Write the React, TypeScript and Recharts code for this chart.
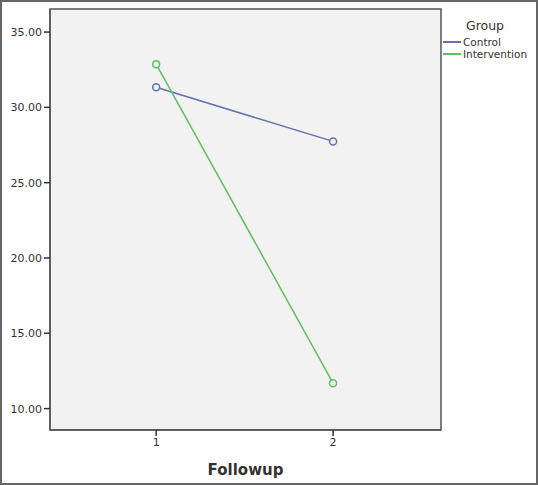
import React from "react";
import {
  LineChart,
  Line,
  XAxis,
  YAxis,
  ReferenceArea,
} from "recharts";

const FOLLOWUP = [1, 2];
const CONTROL = [31.33, 27.74];
const INTERVENTION = [32.87, 11.69];
const Y_TICKS = [10, 15, 20, 25, 30, 35];
const X_DOMAIN = [0.4, 2.61];
const Y_DOMAIN = [8.58, 36.53];

const DATA = FOLLOWUP.map((f, i) => ({
  followup: f,
  control: CONTROL[i],
  intervention: INTERVENTION[i],
}));

const SERIES = [
  { key: "control", name: "Control", color: "#6472ab" },
  { key: "intervention", name: "Intervention", color: "#5fbf5f" },
];

const FONT = "'DejaVu Sans', sans-serif";

// SPSS-style legend sitting to the right of the plot box
function GroupLegend() {
  return (
    <div style={{ position: "absolute", left: 441, top: 14, fontFamily: FONT, color: "#333" }}>
      <div style={{ fontSize: 12.5, marginLeft: 23, height: 20, lineHeight: "20px" }}>Group</div>
      {SERIES.map((s) => (
        <div key={s.key} style={{ display: "flex", alignItems: "center", height: 12, fontSize: 10.5 }}>
          <span style={{ display: "inline-block", width: 18, height: 1.5, background: s.color, marginRight: 2 }} />
          <span>{s.name}</span>
        </div>
      ))}
    </div>
  );
}

export default function App() {
  return (
    <div
      style={{
        position: "absolute",
        left: 0,
        top: 0,
        width: 538,
        height: 485,
        boxSizing: "border-box",
        border: "2px solid #666",
        background: "#fff",
      }}
    >
      <div style={{ position: "absolute", left: -2, top: -2 }}>
        <LineChart
          width={538}
          height={485}
          data={DATA}
          margin={{ top: 9, right: 97, bottom: 0, left: 0 }}
        >
          <XAxis
            dataKey="followup"
            type="number"
            domain={X_DOMAIN}
            ticks={FOLLOWUP}
            height={55}
            axisLine={{ stroke: "#555", strokeWidth: 1.5 }}
            tickLine={{ stroke: "#333", strokeWidth: 1.5 }}
            tickSize={6}
            tick={{ fontSize: 11, fill: "#333", fontFamily: FONT }}
            label={{
              value: "Followup",
              position: "insideBottom",
              offset: 10,
              style: { fontSize: 15, fontWeight: "bold", fill: "#333", fontFamily: FONT },
            }}
          />
          <YAxis
            type="number"
            domain={Y_DOMAIN}
            ticks={Y_TICKS}
            width={50}
            allowDataOverflow
            axisLine={{ stroke: "#555", strokeWidth: 1.5 }}
            tickLine={{ stroke: "#333", strokeWidth: 1.5 }}
            tickSize={6}
            tickFormatter={(v: number) => v.toFixed(2)}
            tick={{ fontSize: 11, fill: "#333", fontFamily: FONT }}
          />
          <ReferenceArea
            x1={X_DOMAIN[0]}
            x2={X_DOMAIN[1]}
            y1={Y_DOMAIN[0]}
            y2={Y_DOMAIN[1]}
            fill="#f2f2f2"
            fillOpacity={1}
            stroke="#555"
            strokeWidth={1.5}
          />
          {SERIES.map((s) => (
            <Line
              key={s.key}
              dataKey={s.key}
              name={s.name}
              type="linear"
              stroke={s.color}
              strokeWidth={1.5}
              dot={{ r: 3.5, stroke: s.color, strokeWidth: 1.5, fill: "#f2f2f2" }}
              isAnimationActive={false}
            />
          ))}
        </LineChart>
      </div>
      <GroupLegend />
    </div>
  );
}
